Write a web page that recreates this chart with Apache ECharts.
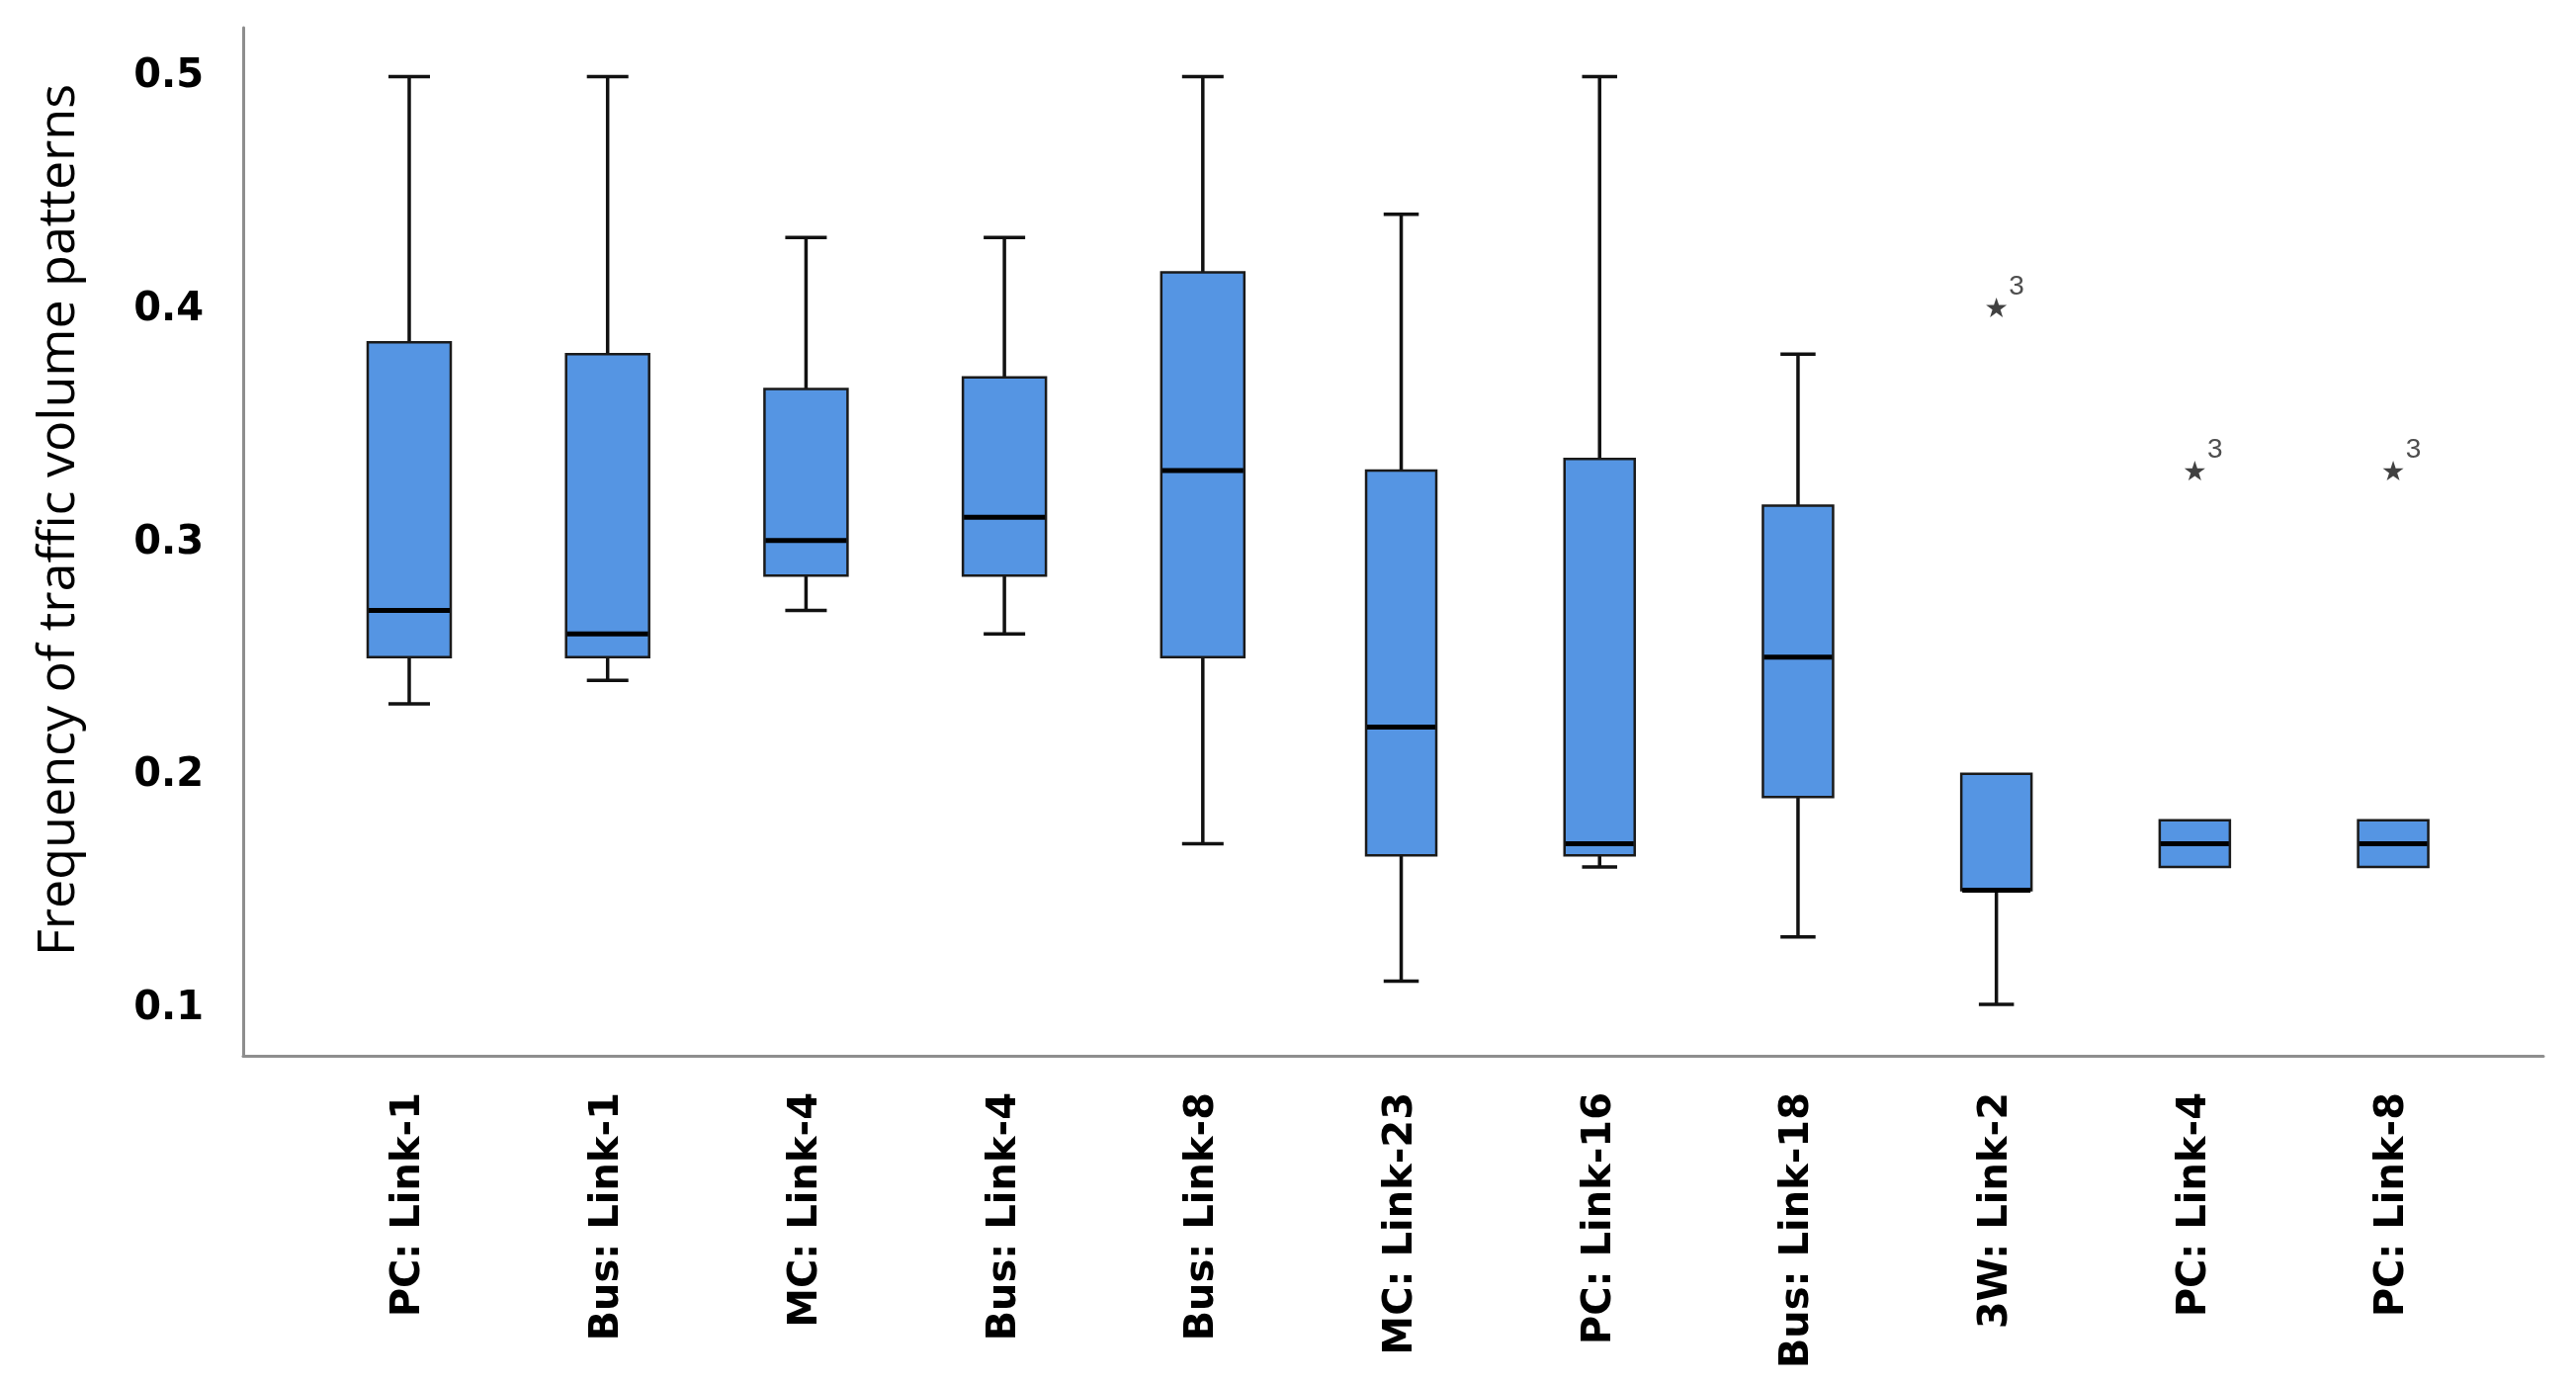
<!DOCTYPE html>
<html>
<head>
<meta charset="utf-8">
<script src="https://cdn.jsdelivr.net/npm/echarts@6/dist/echarts.min.js"></script>
<style>
  html, body { margin: 0; padding: 0; background: #ffffff; }
  #chart { width: 2606px; height: 1399px; }
</style>
</head>
<body>
<div id="chart"></div>
<script>
// ---- data ----
const categories = ['PC: Link-1', 'Bus: Link-1', 'MC: Link-4', 'Bus: Link-4', 'Bus: Link-8',
  'MC: Link-23', 'PC: Link-16', 'Bus: Link-18', '3W: Link-2', 'PC: Link-4', 'PC: Link-8'];
const whiskerLow  = [0.231, 0.241, 0.271, 0.261, 0.171, 0.112, 0.161, 0.131, 0.102, 0.161, 0.161];
const quartile1   = [0.251, 0.251, 0.286, 0.286, 0.251, 0.166, 0.166, 0.191, 0.151, 0.161, 0.161];
const medians     = [0.271, 0.261, 0.301, 0.311, 0.331, 0.221, 0.171, 0.251, 0.151, 0.171, 0.171];
const quartile3   = [0.386, 0.381, 0.366, 0.371, 0.416, 0.331, 0.336, 0.316, 0.201, 0.181, 0.181];
const whiskerHigh = [0.500, 0.500, 0.431, 0.431, 0.500, 0.441, 0.500, 0.381, 0.201, 0.181, 0.181];
const outlierCategory = [8, 9, 10];
const outlierValues   = [0.401, 0.331, 0.331];
const outlierLabels   = ['3', '3', '3'];
const yTicks = [0.1, 0.2, 0.3, 0.4, 0.5];

const boxData = categories.map((c, i) => [i, whiskerLow[i], quartile1[i], medians[i], quartile3[i], whiskerHigh[i]]);
const outlierData = outlierCategory.map((c, i) => ({ value: [c, outlierValues[i]], label: { formatter: outlierLabels[i] } }));
const catIndex = categories.map((c, i) => i);

const BOX_FILL = '#5595E3';
const STAR = 'path://M50,0 L61.8,35.3 L98.9,35.6 L69,57.7 L80.2,93.3 L50,71.6 L19.8,93.3 L31,57.7 L1.1,35.6 L38.2,35.3 Z';

const chart = echarts.init(document.getElementById('chart'), null, { renderer: 'canvas' });
chart.setOption({
  backgroundColor: '#ffffff',
  animation: false,
  grid: { left: 246, right: 33, top: 28, bottom: 331, containLabel: false, outerBoundsMode: 'none' },
  xAxis: {
    type: 'value',
    min: -0.837,
    max: 10.757,
    axisLine: { show: true, onZero: false, lineStyle: { color: '#8e8e8e', width: 3 } },
    axisTick: { show: false },
    splitLine: { show: false },
    axisLabel: {
      customValues: catIndex,
      formatter: v => categories[Math.round(v)] || '',
      rotate: 90,
      margin: 37,
      color: '#000000',
      fontFamily: 'DejaVu Sans',
      fontWeight: 'bold',
      fontSize: 40
    }
  },
  yAxis: {
    type: 'value',
    min: 0.08,
    max: 0.521,
    name: 'Frequency of traffic volume patterns',
    nameLocation: 'middle',
    nameGap: 160,
    nameRotate: 90,
    nameTextStyle: { color: '#000000', fontFamily: 'Open Sans', fontSize: 52, padding: [0, 0, 0, 44] },
    axisLine: { show: true, onZero: false, lineStyle: { color: '#8e8e8e', width: 3 } },
    axisTick: { show: false },
    splitLine: { show: false },
    axisLabel: {
      customValues: yTicks,
      formatter: v => v.toFixed(1),
      margin: 40,
      color: '#000000',
      fontFamily: 'DejaVu Sans',
      fontWeight: 'bold',
      fontSize: 40
    }
  },
  series: [
    {
      type: 'custom',
      name: 'box',
      data: boxData,
      encode: { x: 0, y: [1, 2, 3, 4, 5] },
      renderItem: function (params, api) {
        const i = api.value(0);
        const w = i < 5 ? 84 : 71;
        const cap = w / 2;
        const lo = api.value(1), q1 = api.value(2), md = api.value(3), q3 = api.value(4), hi = api.value(5);
        const pLo = api.coord([i, lo]);
        const pQ1 = api.coord([i, q1]);
        const pMd = api.coord([i, md]);
        const pQ3 = api.coord([i, q3]);
        const pHi = api.coord([i, hi]);
        const x = pQ1[0];
        const wStyle = { stroke: '#111111', lineWidth: 3.5 };
        const children = [];
        if (hi > q3) {
          children.push({ type: 'line', shape: { x1: x, y1: pQ3[1], x2: x, y2: pHi[1] }, style: wStyle });
          children.push({ type: 'line', shape: { x1: x - cap / 2, y1: pHi[1], x2: x + cap / 2, y2: pHi[1] }, style: wStyle });
        }
        if (lo < q1) {
          children.push({ type: 'line', shape: { x1: x, y1: pQ1[1], x2: x, y2: pLo[1] }, style: wStyle });
          children.push({ type: 'line', shape: { x1: x - cap / 2, y1: pLo[1], x2: x + cap / 2, y2: pLo[1] }, style: wStyle });
        }
        children.push({
          type: 'rect',
          shape: { x: x - w / 2, y: pQ3[1], width: w, height: pQ1[1] - pQ3[1] },
          style: { fill: BOX_FILL, stroke: '#1a1a1a', lineWidth: 2.5 }
        });
        children.push({
          type: 'line',
          shape: { x1: x - w / 2 + 1, y1: pMd[1], x2: x + w / 2 - 1, y2: pMd[1] },
          style: { stroke: '#000000', lineWidth: 5 }
        });
        return { type: 'group', children: children };
      },
      z: 2
    },
    {
      type: 'scatter',
      name: 'outliers',
      data: outlierData,
      symbol: STAR,
      symbolSize: 21,
      symbolKeepAspect: true,
      itemStyle: { color: '#111111' },
      label: {
        show: true,
        position: [31, -11],
        align: 'center',
        verticalAlign: 'middle',
        color: '#222222',
        fontFamily: 'Liberation Sans',
        fontSize: 28
      },
      z: 3
    }
  ]
});
</script>
</body>
</html>
